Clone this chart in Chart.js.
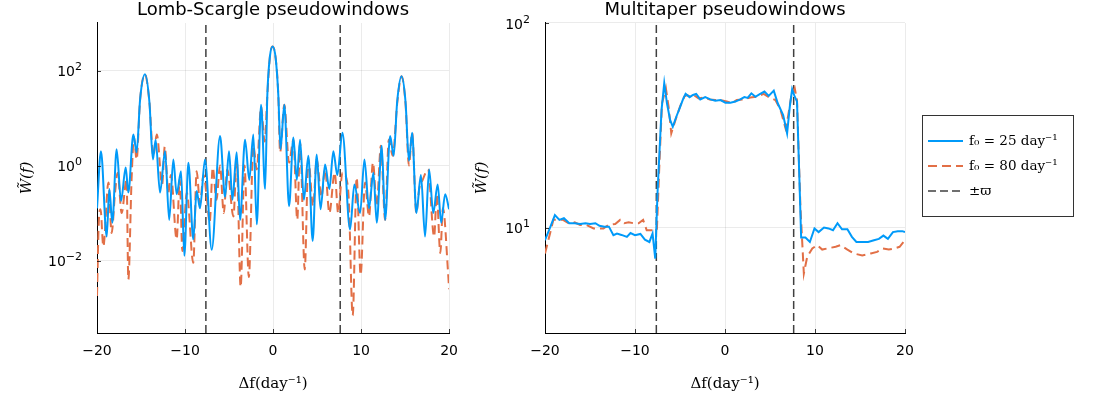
<!DOCTYPE html>
<html>
<head>
<meta charset="utf-8">
<script src="https://cdn.jsdelivr.net/npm/chart.js@4.4.1/dist/chart.umd.min.js"></script>
<style>
    body { margin: 0; background: #fff; width: 1100px; height: 400px; position: relative; overflow: hidden; }
    .panel { position: absolute; top: 0; height: 400px; }
    #left_panel { left: 0; width: 468px; }
    #right_panel { left: 460px; width: 640px; }
</style>
</head>
<body>
<div class="panel" id="left_panel"><canvas id="ls_chart" width="468" height="400"></canvas></div>
<div class="panel" id="right_panel"><canvas id="mt_chart" width="640" height="400"></canvas></div>
<script>
// Lomb-Scargle pseudowindows (A = f0 25/day, B = f0 80/day)
const lsFreqA = [-20,-19.55,-18.9,-18.6,-18.26,-17.77,-17.27,-16.74,-16.44,-15.87,-15.5,-15.1,-14.55,-14.05,-13.65,-13.34,-12.84,-12.27,-11.8,-11.33,-10.95,-10.45,-10.08,-9.62,-9.06,-8.68,-8.3,-7.73,-6.97,-6.02,-5.45,-5.0,-4.62,-4.13,-3.75,-3.18,-2.7,-2.24,-1.85,-1.36,-0.9,-0.65,-0.35,-0.05,0.3,0.6,0.85,1.28,1.82,2.31,2.7,3.07,3.5,4.01,4.5,4.96,5.4,5.91,6.4,6.85,7.3,7.88,8.75,9.24,9.89,10.38,10.9,11.4,11.78,12.35,12.73,13.3,13.7,14.1,14.6,15.05,15.44,15.8,16.28,16.8,17.27,17.73,18.2,18.7,19.1,19.55,20];
const lsPowA = [0.126,2.0,0.032,0.32,0.063,2.2,0.18,0.91,0.27,4.5,1.9,25,83,22,1.35,3.5,0.27,2.0,0.072,1.35,0.25,0.76,0.0126,1.15,0.028,0.29,0.126,1.35,0.017,4.2,0.22,2.0,0.19,1.9,0.072,3.5,0.5,4.5,0.058,19,0.32,30,200,320,180,30,2.2,19,0.14,3.9,0.5,3.5,0.19,1.6,0.026,1.7,0.12,1.05,0.32,2.0,0.63,4.9,0.045,0.4,0.1,1.35,0.126,0.71,0.063,2.6,0.072,4.2,1.6,22,76,22,1.26,4.9,0.1,0.63,0.032,0.83,0.1,0.4,0.063,0.25,0.12];
const lsFreqB = [-20,-19.8,-19.6,-19.28,-18.7,-18.34,-17.95,-17.65,-17.2,-16.64,-16.44,-16.07,-15.8,-15.5,-15.1,-14.55,-14.05,-13.6,-13.2,-12.6,-12.3,-11.9,-11.6,-10.95,-10.6,-10.3,-9.8,-9.06,-8.68,-8.3,-7.9,-7.5,-7.2,-6.85,-6.43,-6.02,-5.6,-5.2,-4.5,-4.13,-3.68,-3.25,-2.75,-2.24,-1.85,-1.36,-0.95,-0.65,-0.35,-0.05,0.3,0.6,0.8,1.28,1.82,2.31,2.75,3.07,3.6,4.01,4.55,4.96,5.5,5.91,6.4,7.0,7.4,7.88,8.35,8.6,9.05,9.5,9.95,10.45,10.9,11.35,11.78,12.25,12.73,13.15,13.6,14.1,14.6,15.05,15.44,15.8,16.28,16.6,17.0,17.6,18.3,18.6,19.0,19.3,19.9,20];
const lsPowB = [0.0018,0.063,0.12,0.02,0.44,0.038,0.27,0.71,0.1,0.52,0.004,0.52,4.0,1.35,25,83,22,1.6,4.5,0.4,2.5,0.27,0.63,0.028,0.52,0.016,0.27,0.009,0.76,0.16,0.63,0.19,0.063,0.91,0.19,1.0,0.1,0.83,0.085,1.35,0.0028,1.0,0.0045,2.6,0.83,17,3.2,30,200,320,180,30,1.9,19,1.15,3.5,0.072,3.0,0.0065,1.35,0.14,1.35,0.22,0.83,0.1,0.71,0.1,0.71,0.52,0.2,0.0007,0.56,0.005,0.44,0.085,1.15,0.14,2.6,0.072,3.5,1.6,20,76,20,1.0,4.9,0.1,0.32,0.5,0.83,0.032,0.25,0.0145,0.126,0.005,0.0025];

// Multitaper pseudowindows
const mtFreqA = [-20,-19.44,-18.9,-18.4,-17.9,-17.3,-16.7,-16.1,-15.5,-15.0,-14.4,-13.95,-13.4,-12.9,-12.4,-12.0,-11.5,-10.9,-10.5,-10.0,-9.4,-8.9,-8.4,-8.05,-7.75,-7.5,-7.27,-7.05,-6.75,-6.45,-6.1,-5.8,-5.4,-4.97,-4.67,-4.38,-3.93,-3.56,-3.2,-2.75,-2.2,-1.63,-1.08,-0.5,0.04,0.6,1.15,1.7,2.15,2.52,2.93,3.38,3.86,4.38,4.86,5.42,5.86,6.46,6.9,7.2,7.46,7.75,8.0,8.27,8.46,8.94,9.43,9.94,10.4,11.0,11.5,12.0,12.5,13.0,13.6,14.1,14.6,15.25,15.9,16.55,17.1,17.6,18.1,18.66,19.2,19.7,20];
const mtPowA = [8.67,10.0,11.5,10.9,11.1,10.5,10.5,10.4,10.5,10.4,10.5,10.2,10.1,10.1,9.17,9.35,9.2,9.0,9.4,9.17,9.3,8.73,8.5,9.35,7.05,14.7,24,37.6,50.8,40.5,33.6,31.1,34.9,39,42.3,45,43.4,44.5,45,42.3,43.4,42.3,41.7,42,40.8,40.8,41.3,42.3,43.4,43,45.3,43.6,44.9,46.2,44,46.7,40.5,35.5,28.9,39,47.4,43.6,41.3,17.1,8.93,8.93,8.5,9.9,9.5,10.0,9.9,9.7,10.5,9.8,9.8,9.0,8.5,8.5,8.5,8.67,8.8,9.13,8.8,9.5,9.6,9.6,9.5];
const mtFreqB = [-20,-19.44,-19.07,-18.5,-18.0,-17.2,-16.7,-16.1,-15.4,-14.6,-13.5,-12.95,-12.2,-11.65,-11.2,-10.7,-10.2,-9.6,-9.1,-8.7,-8.1,-7.57,-7.27,-7.0,-6.57,-6.27,-5.97,-5.5,-4.97,-4.53,-4.23,-3.86,-3.5,-2.93,-2.37,-1.7,-1.08,-0.5,0.2,0.78,1.3,2.08,2.82,3.56,4.3,4.86,5.6,6.16,6.72,6.98,7.35,7.75,8.0,8.38,8.76,9.13,9.7,10.24,10.8,11.35,12.3,12.84,13.6,14.3,15.25,16.2,16.9,17.5,18.2,18.8,19.4,20];
const mtPowB = [7.47,9.35,10.9,10.9,10.9,10.4,10.6,10.3,10.3,9.9,9.9,10.3,10.4,10.9,10.5,10.6,10.5,10.5,10.9,9.7,9.7,9.7,21.4,40.5,48,39,28.9,33.6,39.3,43.6,44.5,43.6,44.5,42.8,43.2,42.3,42,42,41.3,40.5,42,42.3,43.2,43.6,45,43.4,42,37.7,30.6,34.4,43.6,48,42,12.6,5.96,7.18,7.9,8.2,7.8,7.9,8.05,8.2,7.8,7.47,7.3,7.47,7.6,7.9,7.8,7.9,8.05,8.67];

const varpi = 7.63;
const xTicks = [-20, -10, 0, 10, 20];
const xTickLabels = ['−20', '−10', '0', '10', '20'];
const lsYTicks = [1e-2, 1, 1e2];
const lsYTickExps = ['−2', '0', '2'];
const mtYTicks = [10, 100];
const mtYTickExps = ['1', '2'];
const seriesNames = ['f₀ = 25 day⁻¹', 'f₀ = 80 day⁻¹', '±ϖ'];

const BLUE = '#009af9';
const ORANGE = '#e26f46';
const GREY = '#404040';

function to_points(xs, ys) {
    return xs.map((x, i) => ({ x: x, y: ys[i] }));
}

function varpi_points(yMin, yMax) {
    return [{x: -varpi, y: yMin}, {x: -varpi, y: yMax}, {x: 0, y: null}, {x: varpi, y: yMin}, {x: varpi, y: yMax}];
}

// power-of-ten labels and the small inward tick marks
const axis_decor = {
    id: 'axis_decor',
    afterDraw(chart, args, o) {
        const ctx = chart.ctx;
        const area = chart.chartArea;
        const xs = chart.scales.x, ys = chart.scales.y;
        ctx.save();
        ctx.strokeStyle = 'rgba(0,0,0,0.75)';
        ctx.lineWidth = 1;
        ctx.beginPath();
        xTicks.forEach(v => {
            const px = Math.round(xs.getPixelForValue(v)) + 0.5;
            ctx.moveTo(px, area.bottom);
            ctx.lineTo(px, area.bottom - 4);
        });
        o.ticks.forEach(v => {
            const py = Math.round(ys.getPixelForValue(v)) + 0.5;
            ctx.moveTo(area.left, py);
            ctx.lineTo(area.left + 4, py);
        });
        ctx.stroke();
        ctx.fillStyle = '#000';
        ctx.textAlign = 'right';
        ctx.textBaseline = 'middle';
        o.ticks.forEach((v, i) => {
            const py = ys.getPixelForValue(v);
            const right = area.left - 15;
            ctx.font = '11px "DejaVu Sans"';
            const ew = ctx.measureText(o.exps[i]).width;
            ctx.fillText(o.exps[i], right, py - 3);
            ctx.font = '14px "DejaVu Sans"';
            ctx.fillText('10', right - ew, py + 2);
        });
        ctx.restore();
    }
};

// legend drawn in a box right of the multitaper panel
const legend_box = {
    id: 'legend_box',
    afterDraw(chart) {
        const ctx = chart.ctx;
        const area = chart.chartArea;
        const x0 = area.right + 17, y0 = area.top + 92, w = 151, h = 101;
        ctx.save();
        ctx.fillStyle = '#fff';
        ctx.fillRect(x0, y0, w, h);
        ctx.strokeStyle = '#333';
        ctx.lineWidth = 1;
        ctx.strokeRect(x0 + 0.5, y0 + 0.5, w, h);
        chart.data.datasets.forEach((ds, i) => {
            const y = y0 + 26 + i * 25;
            ctx.beginPath();
            ctx.setLineDash(ds.borderDash || []);
            ctx.strokeStyle = ds.borderColor;
            ctx.lineWidth = ds.borderWidth;
            ctx.moveTo(x0 + 6, y);
            ctx.lineTo(x0 + 41, y);
            ctx.stroke();
            ctx.setLineDash([]);
            ctx.fillStyle = '#000';
            ctx.font = '13.5px "DejaVu Serif"';
            ctx.textBaseline = 'middle';
            ctx.fillText(ds.label, x0 + 47, y);
        });
        ctx.restore();
    }
};

function build_chart(canvasId, opts) {
    const datasets = [
        {
            label: seriesNames[0],
            data: to_points(opts.freqA, opts.powA),
            borderColor: BLUE,
            borderWidth: 2,
            pointRadius: 0,
            cubicInterpolationMode: opts.smooth ? 'monotone' : 'default',
            tension: 0
        },
        {
            label: seriesNames[1],
            data: to_points(opts.freqB, opts.powB),
            borderColor: ORANGE,
            borderWidth: 2,
            borderDash: [9, 5],
            pointRadius: 0,
            cubicInterpolationMode: opts.smooth ? 'monotone' : 'default',
            tension: 0
        },
        {
            label: seriesNames[2],
            data: varpi_points(opts.yMin, opts.yMax),
            borderColor: GREY,
            borderWidth: 1.5,
            borderDash: [8, 4],
            pointRadius: 0,
            spanGaps: false
        }
    ];

    const plugins = [axis_decor];
    if (opts.legend) plugins.push(legend_box);

    return new Chart(document.getElementById(canvasId), {
        type: 'line',
        data: { datasets: datasets },
        plugins: plugins,
        options: {
            responsive: false,
            animation: false,
            layout: { padding: { top: 0, right: opts.rightPad, bottom: 0, left: 0 } },
            plugins: {
                legend: { display: false },
                tooltip: { enabled: false },
                axis_decor: { ticks: opts.yTicks, exps: opts.yTickExps },
                title: {
                    display: true,
                    text: opts.title,
                    fullSize: false,
                    color: '#000',
                    font: { family: '"DejaVu Sans"', size: 18, weight: 'normal', lineHeight: 1.2 },
                    padding: { top: 0, bottom: 1.4 }
                }
            },
            scales: {
                x: {
                    type: 'linear',
                    min: -20,
                    max: 20,
                    afterFit: scale => { scale.height = 67; },
                    afterBuildTicks: scale => { scale.ticks = xTicks.map(v => ({ value: v })); },
                    ticks: {
                        autoSkip: false,
                        maxRotation: 0,
                        padding: 10,
                        color: '#000',
                        font: { family: '"DejaVu Sans"', size: 14 },
                        callback: (v) => xTickLabels[xTicks.indexOf(v)]
                    },
                    grid: { color: 'rgba(0,0,0,0.08)', drawTicks: false },
                    border: { color: '#000', width: 1 },
                    title: {
                        display: true,
                        text: 'Δf(day⁻¹)',
                        color: '#000',
                        font: { family: '"DejaVu Serif"', size: 15 },
                        padding: { top: 0, bottom: 7 }
                    }
                },
                y: {
                    type: 'logarithmic',
                    min: opts.yMin,
                    max: opts.yMax,
                    afterFit: scale => { scale.width = opts.yAxisWidth; },
                    afterBuildTicks: scale => { scale.ticks = opts.yTicks.map(v => ({ value: v })); },
                    ticks: {
                        autoSkip: false,
                        padding: 15,
                        callback: () => ''
                    },
                    grid: { color: 'rgba(0,0,0,0.08)', drawTicks: false },
                    border: { color: '#000', width: 1 },
                    title: {
                        display: true,
                        text: 'W̃(f)',
                        color: '#000',
                        font: { family: '"DejaVu Serif"', size: 15, style: 'italic' },
                        padding: { top: opts.yTitlePad, bottom: 0 }
                    }
                }
            }
        }
    });
}

build_chart('ls_chart', {
    title: 'Lomb-Scargle pseudowindows',
    freqA: lsFreqA, powA: lsPowA, freqB: lsFreqB, powB: lsPowB,
    yMin: 3e-4, yMax: 1000,
    yTicks: lsYTicks, yTickExps: lsYTickExps,
    yAxisWidth: 97, rightPad: 3, yTitlePad: 18,
    smooth: true, legend: false
});

build_chart('mt_chart', {
    title: 'Multitaper pseudowindows',
    freqA: mtFreqA, powA: mtPowA, freqB: mtFreqB, powB: mtPowB,
    yMin: 3.05, yMax: 100,
    yTicks: mtYTicks, yTickExps: mtYTickExps,
    yAxisWidth: 85, rightPad: 195, yTitlePad: 13,
    smooth: false, legend: true
});
</script>
</body>
</html>
